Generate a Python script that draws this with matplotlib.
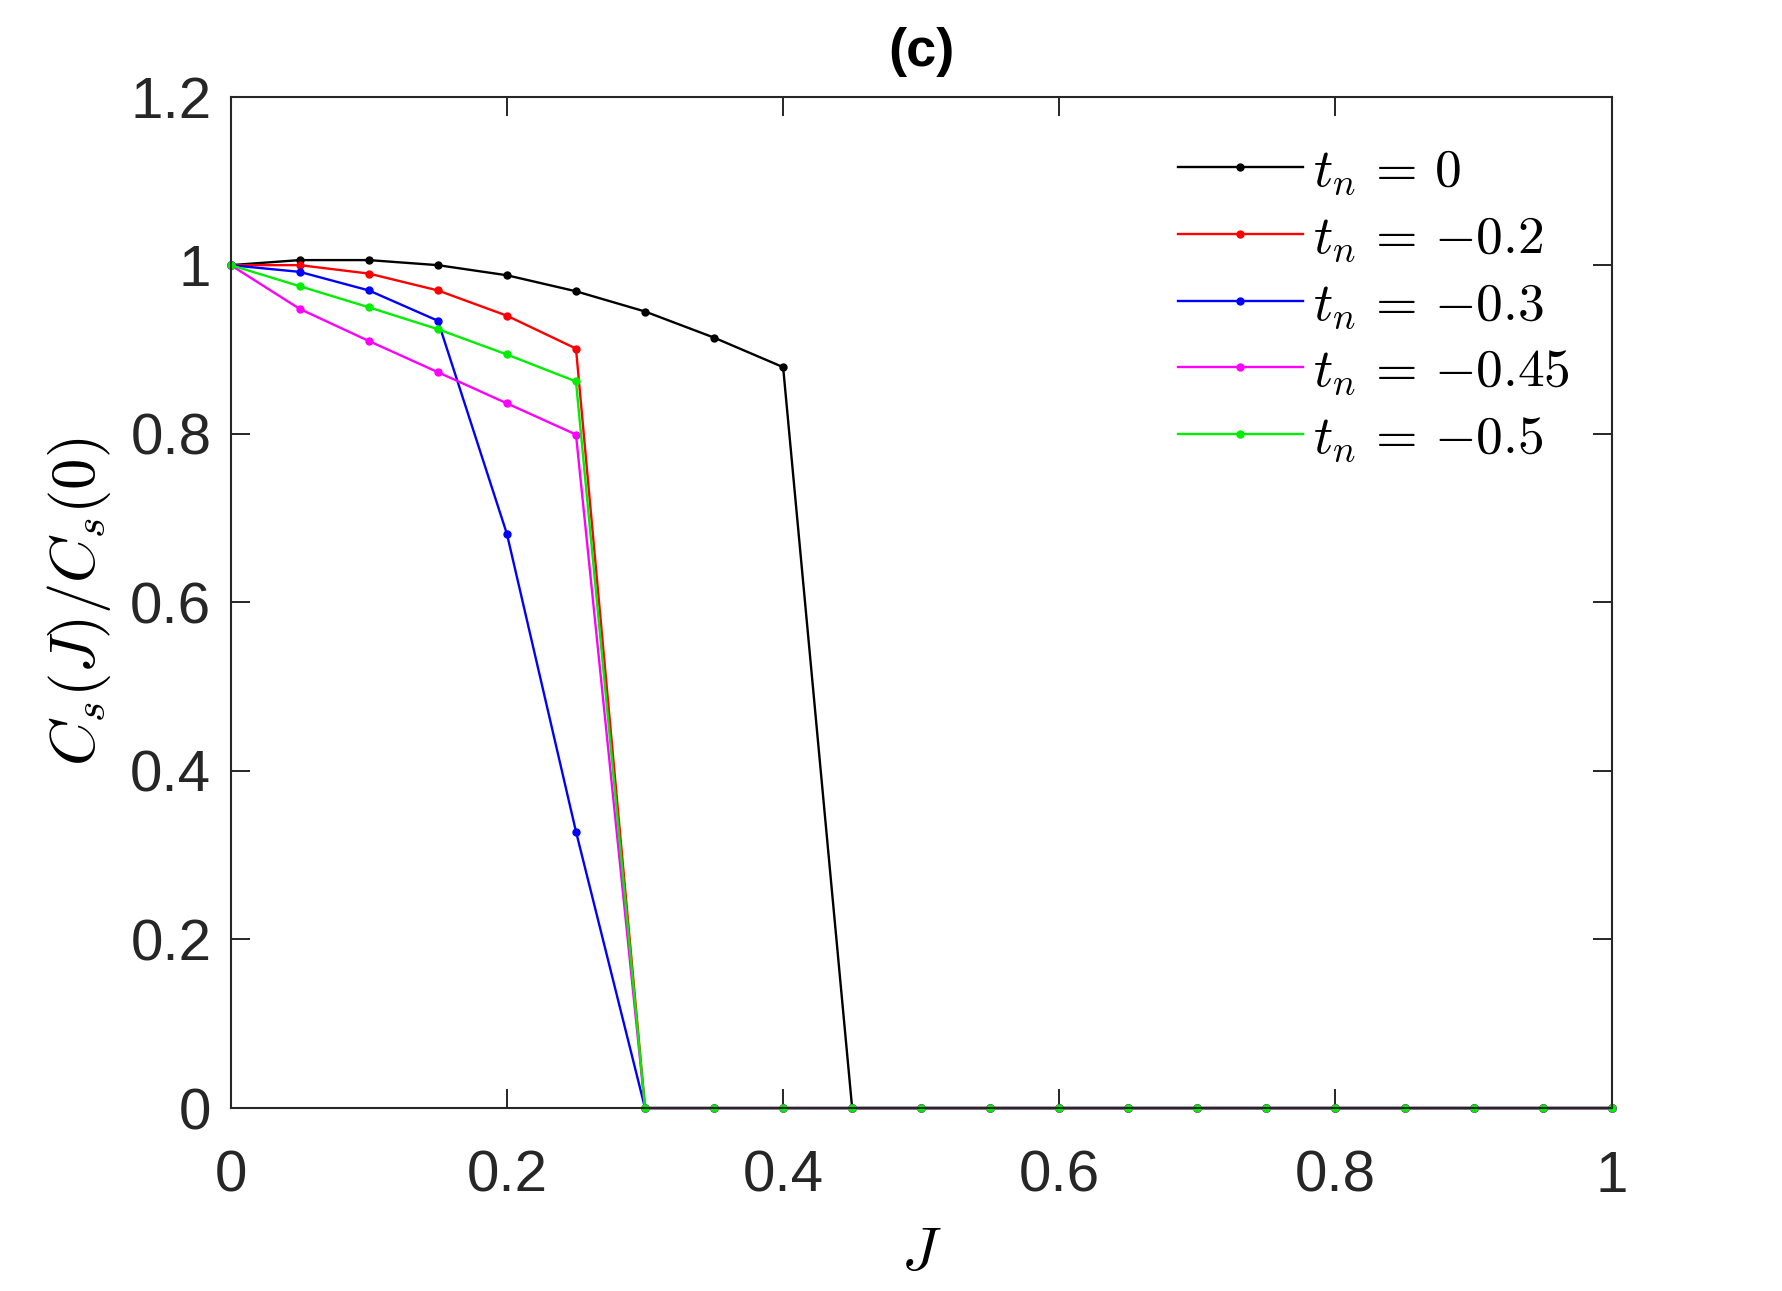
import numpy as np
import matplotlib.pyplot as plt

J = np.round(np.arange(0, 1.0001, 0.05), 2)

cs_t0 = [1.0, 1.006, 1.006, 1.0, 0.988, 0.969, 0.945, 0.914, 0.879] + [0] * 12
cs_t02 = [1.0, 1.0, 0.990, 0.970, 0.940, 0.901] + [0] * 15
cs_t03 = [1.0, 0.992, 0.970, 0.934, 0.681, 0.328] + [0] * 15
cs_t045 = [1.0, 0.948, 0.910, 0.873, 0.836, 0.799] + [0] * 15
cs_t05 = [1.0, 0.975, 0.950, 0.924, 0.894, 0.862] + [0] * 15

series = [cs_t0, cs_t02, cs_t03, cs_t045, cs_t05]
labels = [r'$t_n\,=\,{0}$', r'$t_n\,=\,{-0.2}$', r'$t_n\,=\,{-0.3}$',
          r'$t_n\,=\,{-0.45}$', r'$t_n\,=\,{-0.5}$']
colors = ['black', 'red', 'blue', 'magenta', '#00ee00']

plt.rcParams['font.family'] = ['Liberation Sans', 'DejaVu Sans']
plt.rcParams['mathtext.fontset'] = 'cm'

fig = plt.figure(figsize=(17.82, 12.91), dpi=100)
ax = fig.add_axes([0.1295, 0.1417, 0.7749, 0.7835])

for y, lab, c in zip(series, labels, colors):
    ax.plot(J, y, '-', color=c, marker='o', markersize=5, linewidth=1.7,
            label=lab, clip_on=False)

ax.set_xlim(0, 1)
ax.set_ylim(0, 1.2)
ax.set_xticks([0, 0.2, 0.4, 0.6, 0.8, 1])
ax.set_xticklabels(['0', '0.2', '0.4', '0.6', '0.8', '1'])
ax.set_yticks([0, 0.2, 0.4, 0.6, 0.8, 1, 1.2])
ax.set_yticklabels(['0', '0.2', '0.4', '0.6', '0.8', '1', '1.2'])

for s in ax.spines.values():
    s.set_linewidth(1.5)
    s.set_color('#262626')
ax.tick_params(direction='in', length=14, width=1.4, colors='#262626',
               labelsize=42, top=True, right=True)
ax.tick_params(axis='x', pad=30)
ax.tick_params(axis='y', pad=14)

ax.set_xlabel(r'$J$', fontsize=44, labelpad=16)
ax.set_ylabel(r'$C_s(J)/C_s(0)$', fontsize=45, labelpad=12)
ax.set_title('(c)', fontsize=39, fontweight='bold', pad=22)

leg = ax.legend(loc='upper left', bbox_to_anchor=(0.686, 0.950), frameon=False,
                fontsize=38.5, handlelength=2.33, handletextpad=0.2,
                labelspacing=0.31, borderpad=0, borderaxespad=0)

fig.savefig('out.png', dpi=100)
